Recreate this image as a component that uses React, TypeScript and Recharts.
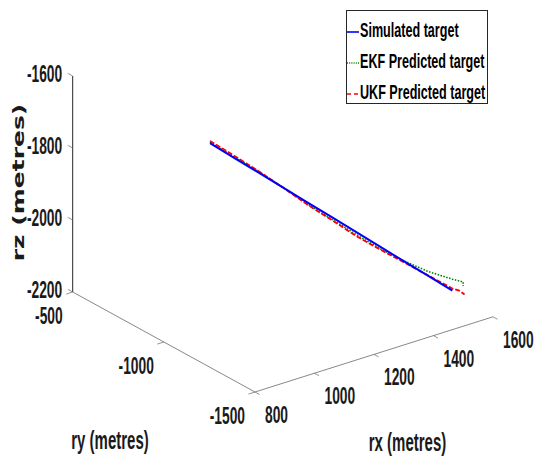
import { LineChart, Line, XAxis, YAxis, ReferenceLine, ReferenceDot, Legend } from 'recharts'

// target trajectory samples, metres
const simRx = [1112, 1155, 1199, 1242, 1285, 1329, 1372, 1415, 1458, 1502, 1545]
const simRy = [-744, -806, -869, -931, -993, -1056, -1118, -1180, -1242, -1305, -1367]
const simRz = [-1800, -1835, -1870, -1905, -1940, -1975, -2010, -2045, -2080, -2115, -2150]

const ekfRx = [1112, 1155, 1199, 1242, 1285, 1329, 1372, 1415, 1458, 1502, 1545, 1556, 1564, 1564]
const ekfRy = [-744, -806, -869, -931, -993, -1056, -1118, -1180, -1242, -1305, -1367, -1383, -1395, -1395]
const ekfRz = [-1797, -1832, -1867, -1905, -1944, -1981, -2017, -2051, -2079, -2103, -2118, -2121, -2123, -2134]

const ukfRx = [1112, 1155, 1199, 1242, 1285, 1329, 1372, 1415, 1458, 1502, 1545, 1557, 1567]
const ukfRy = [-744, -806, -869, -931, -993, -1056, -1118, -1180, -1242, -1305, -1367, -1385, -1398]
const ukfRz = [-1794, -1829, -1866, -1905, -1946, -1983, -2021, -2053, -2083, -2114, -2144, -2148, -2158]

const rxTicks = [800, 1000, 1200, 1400, 1600]
const ryTicks = [-500, -1000, -1500]
const rzTicks = [-1600, -1800, -2000, -2200]

const RX_MIN = 800
const RX_MAX = 1600
const RY_MIN = -1500
const RY_MAX = -500
const RZ_MIN = -2200
const RZ_MAX = -1600

const W = 535
const H = 459
const FONT = "'Liberation Sans', Arial, sans-serif"
const SQUEEZE = 0.6

// fixed camera, roughly matlab's default 3d view (az -37.5, el 30)
function project(rx: number, ry: number, rz: number) {
  return {
    x: 255 + 0.2975 * (rx - RX_MIN) - 0.1823 * (ry - RY_MIN),
    y: 392 - 0.094 * (rx - RX_MIN) - 0.1 * (ry - RY_MIN) - 0.36 * (rz - RZ_MIN),
  }
}

const toView = (rx: number[], ry: number[], rz: number[]) => rx.map((v, i) => project(v, ry[i], rz[i]))

const series = [
  { name: 'Simulated target', color: '#0000ff', dash: undefined as string | undefined, width: 2, legendDash: undefined as string | undefined, data: toView(simRx, simRy, simRz) },
  { name: 'EKF Predicted target', color: '#008000', dash: '1.5 1.5', width: 1.6, legendDash: '1 1.2', data: toView(ekfRx, ekfRy, ekfRz) },
  { name: 'UKF Predicted target', color: '#ff0000', dash: '5 2', width: 1.8, legendDash: '4 3', data: toView(ukfRx, ukfRy, ukfRz) },
]
const drawOrder = [series[1], series[2], series[0]]

type Seg = { a: { x: number; y: number }; b: { x: number; y: number } }

const tickSegs: Seg[] = [
  ...rzTicks.map((z) => ({ a: project(RX_MIN, RY_MAX, z), b: project(RX_MIN, RY_MAX + 27, z) })),
  ...ryTicks.map((y) => ({ a: project(RX_MIN, y, RZ_MIN), b: project(RX_MIN - 22, y, RZ_MIN) })),
  ...rxTicks.map((x) => ({ a: project(x, RY_MIN, RZ_MIN), b: project(x, RY_MIN - 25, RZ_MIN) })),
]

type Lbl = { pos: { x: number; y: number }; text: string; anchor: 'start' | 'middle' | 'end'; dx: number; dy: number }

const tickLabels: Lbl[] = [
  ...rzTicks.map((z) => ({ pos: project(RX_MIN, RY_MAX, z), text: String(z), anchor: 'end' as const, dx: -10.5, dy: 6 })),
  ...ryTicks.map((y) => ({ pos: project(RX_MIN, y, RZ_MIN), text: String(y), anchor: 'end' as const, dx: -10, dy: 31.5 })),
  ...rxTicks.map((x) => ({ pos: project(x, RY_MIN, RZ_MIN), text: String(x), anchor: 'start' as const, dx: 10, dy: 31 })),
]

function SqText({ cx, cy, text, anchor, size, family = FONT, rotate = false }: any) {
  const tf = rotate
    ? `translate(${cx},${cy}) scale(${SQUEEZE},1) rotate(-90)`
    : `translate(${cx},${cy}) scale(${SQUEEZE},1)`
  return (
    <text
      transform={tf}
      textAnchor={anchor}
      dominantBaseline={rotate ? 'central' : 'alphabetic'}
      fontFamily={family}
      fontWeight="bold"
      fontSize={size}
      fill="#1a1a1a"
    >
      {text}
    </text>
  )
}

function LegendBox() {
  return (
    <svg width={142} height={94} style={{ display: 'block' }}>
      <rect x={0.5} y={0.5} width={141} height={93} fill="#fff" stroke="#262626" strokeWidth={1} />
      {series.map((s, i) => {
        const base = 26.5 + i * 31
        return (
          <g key={s.name}>
            <line x1={1} x2={13} y1={base - 4.5} y2={base - 4.5} stroke={s.color} strokeWidth={1.6} strokeDasharray={s.legendDash} />
            <text
              transform={`translate(14,${base}) scale(${SQUEEZE},1)`}
              fontFamily={FONT}
              fontWeight="bold"
              fontSize={21}
              fill="#000"
            >
              {s.name}
            </text>
          </g>
        )
      })}
    </svg>
  )
}

export default function App() {
  const zBase = project(RX_MIN, RY_MAX, RZ_MIN)
  const zTop = project(RX_MIN, RY_MAX, RZ_MAX)
  const ryEnd = project(RX_MIN, RY_MIN, RZ_MIN)
  const rxEnd = project(RX_MAX, RY_MIN, RZ_MIN)

  return (
    <div style={{ position: 'absolute', left: 0, top: 0, width: W, height: H, background: '#fff' }}>
      <LineChart width={W} height={H} margin={{ top: 0, right: 0, bottom: 0, left: 0 }}>
        <XAxis type="number" dataKey="x" domain={[0, W]} hide allowDataOverflow height={0} />
        <YAxis type="number" dataKey="y" domain={[0, H]} reversed hide allowDataOverflow width={0} />

        <ReferenceLine segment={[zBase, zTop]} stroke="#262626" strokeWidth={1} />
        <ReferenceLine segment={[zBase, ryEnd]} stroke="#555" strokeWidth={0.7} />
        <ReferenceLine segment={[ryEnd, rxEnd]} stroke="#555" strokeWidth={0.7} />
        {tickSegs.map((s, i) => (
          <ReferenceLine key={'t' + i} segment={[s.a, s.b]} stroke="#666" strokeWidth={0.7} />
        ))}

        {tickLabels.map((l, i) => (
          <ReferenceDot
            key={'l' + i}
            x={l.pos.x}
            y={l.pos.y}
            r={0}
            shape={(p: any) => <SqText cx={p.cx + l.dx} cy={p.cy + l.dy} text={l.text} anchor={l.anchor} size={23} />}
          />
        ))}

        <ReferenceDot x={110} y={442} r={0} shape={(p: any) => <SqText cx={p.cx} cy={p.cy + 6.5} text="ry (metres)" anchor="middle" size={25} />} />
        <ReferenceDot x={407.5} y={444} r={0} shape={(p: any) => <SqText cx={p.cx} cy={p.cy + 6.5} text="rx (metres)" anchor="middle" size={25} />} />
        <ReferenceDot
          x={19}
          y={182.5}
          r={0}
          shape={(p: any) => (
            <SqText cx={p.cx} cy={p.cy} text="rz (metres)" anchor="middle" size={25} rotate family="'DejaVu Sans', sans-serif" />
          )}
        />

        {drawOrder.map((s) => (
          <Line
            key={s.name}
            name={s.name}
            data={s.data}
            dataKey="y"
            type="linear"
            stroke={s.color}
            strokeWidth={s.width}
            strokeDasharray={s.dash}
            dot={false}
            activeDot={false}
            isAnimationActive={false}
          />
        ))}

        <Legend
          layout="vertical"
          align="center"
          verticalAlign="middle"
          content={() => <LegendBox />}
          wrapperStyle={{ position: 'absolute', left: 346, top: 10, width: 142, height: 94, margin: 0, padding: 0 }}
        />
      </LineChart>
    </div>
  )
}
